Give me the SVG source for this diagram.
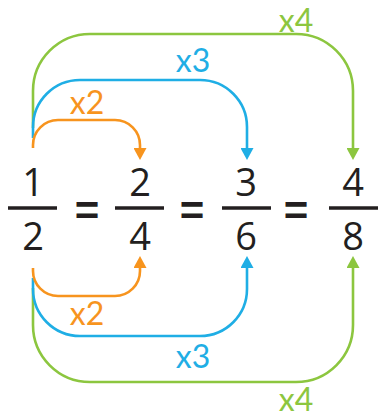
<svg xmlns="http://www.w3.org/2000/svg" width="379" height="419" viewBox="0 0 379 419">
<style>
.num{font-family:"Open Sans","Liberation Sans",sans-serif;font-size:38px;fill:#231F20;text-anchor:middle}
.eq{font-family:"Liberation Sans",Arial,sans-serif;font-weight:bold;font-size:42px;fill:#231F20;text-anchor:middle}
.bar{stroke:#231F20;stroke-width:3.5;fill:none}
.lbl{font-family:Lato,"Open Sans",sans-serif;font-size:32px;text-anchor:middle}
.c{fill:none;stroke-width:2.6}
.o{stroke:#F7941E}.b{stroke:#1FAEE5}.g{stroke:#8CC63F}
</style>
<defs>
<marker id="ao" markerUnits="userSpaceOnUse" markerWidth="12" markerHeight="13" viewBox="0 0 12 13" refX="0" refY="6.5" orient="auto"><path d="M0,0 L12,6.5 L0,13 Z" fill="#F7941E"/></marker>
<marker id="ab" markerUnits="userSpaceOnUse" markerWidth="12" markerHeight="13" viewBox="0 0 12 13" refX="0" refY="6.5" orient="auto"><path d="M0,0 L12,6.5 L0,13 Z" fill="#1FAEE5"/></marker>
<marker id="ag" markerUnits="userSpaceOnUse" markerWidth="12" markerHeight="13" viewBox="0 0 12 13" refX="0" refY="6.5" orient="auto"><path d="M0,0 L12,6.5 L0,13 Z" fill="#8CC63F"/></marker>
</defs>
<g id="connectors">
<path class="c g" d="M33,128 V91 A57,57 0 0 1 90,34 H296 A57,57 0 0 1 353,91 V148" marker-end="url(#ag)"/>
<path class="c b" d="M33,138 V127 A47,47 0 0 1 80,80 H200 A47,47 0 0 1 247,127 V148" marker-end="url(#ab)"/>
<path class="c o" d="M33,148 V145 A25,25 0 0 1 58,120 H115 A25,25 0 0 1 140,145 V148" marker-end="url(#ao)"/>
<path class="c g" d="M33,288 V325 A57,57 0 0 0 90,382 H296 A57,57 0 0 0 353,325 V268" marker-end="url(#ag)"/>
<path class="c b" d="M33,278 V289 A47,47 0 0 0 80,336 H200 A47,47 0 0 0 247,289 V268" marker-end="url(#ab)"/>
<path class="c o" d="M33,268 V271 A25,25 0 0 0 58,296 H115 A25,25 0 0 0 140,271 V268" marker-end="url(#ao)"/>
<text class="lbl" x="87" y="114" fill="#F7941E">x2</text>
<text class="lbl" x="193" y="72" fill="#1FAEE5">x3</text>
<text class="lbl" x="296" y="32" fill="#8CC63F">x4</text>
<text class="lbl" x="87" y="325" fill="#F7941E">x2</text>
<text class="lbl" x="193" y="368" fill="#1FAEE5">x3</text>
<text class="lbl" x="296" y="411" fill="#8CC63F">x4</text>
</g>
<g id="f12">
<text class="num" x="33" y="196">1</text>
<line class="bar" x1="8" y1="208" x2="57" y2="208"/>
<text class="num" x="33" y="250">2</text>
</g>
<g id="eq1"><text class="eq" x="87" y="225">=</text></g>
<g id="f24">
<text class="num" x="140" y="196">2</text>
<line class="bar" x1="115" y1="208" x2="164" y2="208"/>
<text class="num" x="140" y="250">4</text>
</g>
<g id="eq2"><text class="eq" x="192" y="225">=</text></g>
<g id="f36">
<text class="num" x="246" y="196">3</text>
<line class="bar" x1="222" y1="208" x2="271" y2="208"/>
<text class="num" x="246" y="250">6</text>
</g>
<g id="eq3"><text class="eq" x="296" y="225">=</text></g>
<g id="f48">
<text class="num" x="353" y="196">4</text>
<line class="bar" x1="329" y1="208" x2="378" y2="208"/>
<text class="num" x="353" y="250">8</text>
</g>
</svg>
